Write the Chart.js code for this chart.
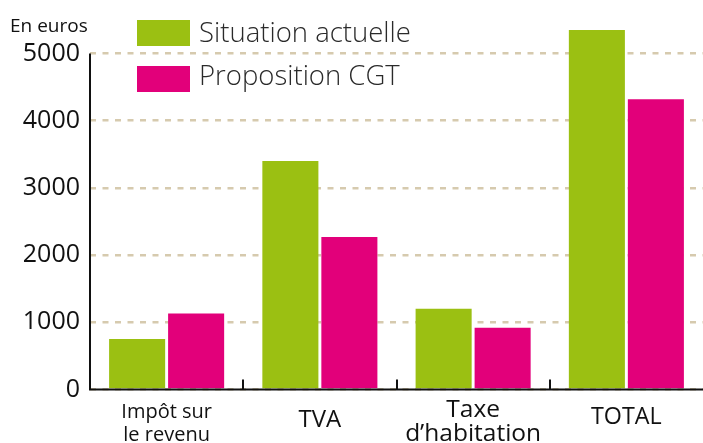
<!DOCTYPE html>
<html>
<head>
<meta charset="utf-8">
<script src="https://cdn.jsdelivr.net/npm/chart.js@4"></script>
<style>
  body { margin: 0; background: #fff; }
  #wrap { width: 703px; height: 443px; }
</style>
</head>
<body>
<div id="wrap"><canvas id="chart" width="703" height="443"></canvas></div>
<script>
const categories = [['Impôt sur', 'le revenu'], ['TVA'], ['Taxe', 'd’habitation'], ['TOTAL']];
const actuelle = [750, 3400, 1200, 5350];
const propositionCGT = [1130, 2270, 920, 4320];
const yTicks = [0, 1000, 2000, 3000, 4000, 5000];
const seriesNames = ['Situation actuelle', 'Proposition CGT'];

const GREEN = '#9bc012';
const PINK = '#e2007a';
const FONT = '"Open Sans", "Noto Sans", sans-serif';

// per-category label look (the source mixes sizes)
const labelSize = [20, 24, 24.5, 23.3];
const labelBaseline = [418, 426.5, 416.5, 423.5];
const labelLeading = [23, 0, 24.5, 0];

// axes, separators, category labels, legend and unit drawn by hand
const extras = {
  id: 'extras',
  afterDraw(chart) {
    const ctx = chart.ctx;
    const x = chart.scales.x, y = chart.scales.y;
    const area = chart.chartArea;
    const y0 = y.getPixelForValue(0);
    ctx.save();
    ctx.strokeStyle = '#111';
    ctx.lineWidth = 2;
    ctx.beginPath();
    ctx.moveTo(area.left, y.getPixelForValue(yTicks[yTicks.length - 1]));
    ctx.lineTo(area.left, y0);
    ctx.lineTo(area.right, y0);
    ctx.stroke();
    for (let i = 0; i < categories.length - 1; i++) {
      const px = Math.round((x.getPixelForValue(i) + x.getPixelForValue(i + 1)) / 2);
      ctx.beginPath();
      ctx.moveTo(px, y0);
      ctx.lineTo(px, y0 - 10);
      ctx.stroke();
    }
    // category labels
    ctx.fillStyle = '#111';
    ctx.textAlign = 'center';
    ctx.textBaseline = 'alphabetic';
    categories.forEach((lines, i) => {
      ctx.font = labelSize[i] + 'px ' + FONT;
      const cx = x.getPixelForValue(i);
      lines.forEach((t, j) => ctx.fillText(t, cx, labelBaseline[i] + j * labelLeading[i]));
    });
    // unit
    ctx.textAlign = 'left';
    ctx.font = '19px ' + FONT;
    ctx.fillText('En euros', 10, 31.5);
    // legend
    const colors = [GREEN, PINK];
    const boxTop = [20, 66];
    const base = [42, 85];
    ctx.font = '300 27.5px ' + FONT;
    chart.data.datasets.forEach((ds, i) => {
      ctx.fillStyle = colors[i];
      ctx.fillRect(137, boxTop[i], 53, 26);
      ctx.fillStyle = '#2a2a2a';
      ctx.fillText(ds.label, 199, base[i]);
    });
    ctx.restore();
  }
};

new Chart(document.getElementById('chart'), {
  type: 'bar',
  data: {
    labels: categories,
    datasets: [
      { label: seriesNames[0], data: actuelle, backgroundColor: GREEN },
      { label: seriesNames[1], data: propositionCGT, backgroundColor: PINK }
    ]
  },
  options: {
    responsive: false,
    animation: false,
    layout: { padding: { top: 26.6, right: 0, left: 0, bottom: 0 } },
    datasets: {
      bar: { categoryPercentage: 0.77, barPercentage: 0.95 }
    },
    scales: {
      x: {
        grid: { display: false },
        border: { display: false },
        ticks: { display: false },
        afterFit: (s) => { s.height = 53.5; }
      },
      y: {
        min: 0,
        max: 5400,
        afterBuildTicks: (s) => { s.ticks = yTicks.map(v => ({ value: v })); },
        afterFit: (s) => { s.width = 90; },
        grid: { color: '#d6caae', lineWidth: 2.5, drawTicks: false },
        border: { display: false, dash: [6, 6.5] },
        ticks: {
          color: '#111',
          padding: 10,
          font: { family: FONT, size: 25 },
          callback: (v) => String(v)
        }
      }
    },
    plugins: {
      legend: { display: false },
      tooltip: { enabled: false }
    }
  },
  plugins: [extras]
});
</script>
</body>
</html>
